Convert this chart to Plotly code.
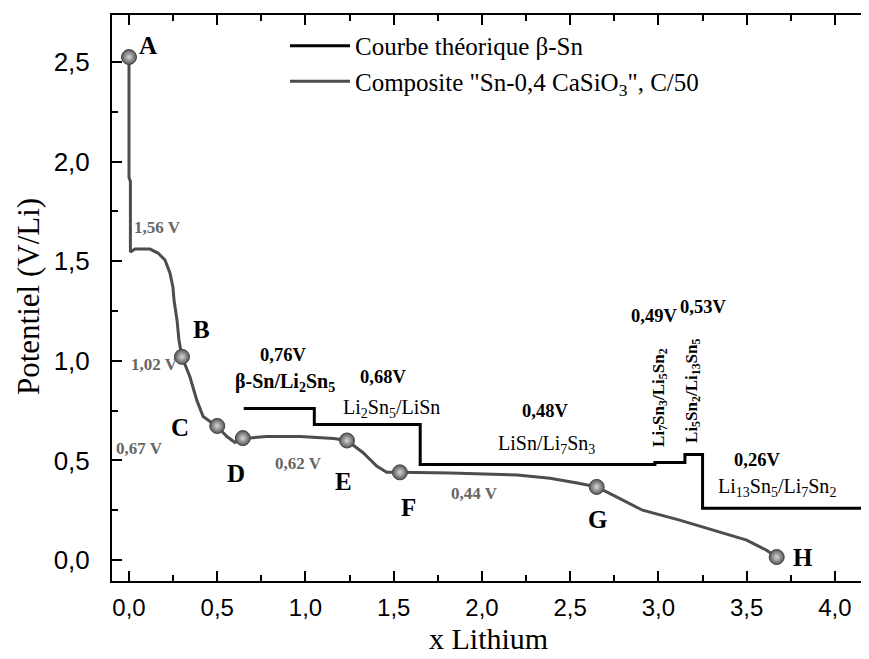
import plotly.graph_objects as go

# Theoretical step curve (beta-Sn)
theo_x = [0.65, 1.05, 1.05, 1.65, 1.65, 2.98, 2.98, 3.15, 3.15, 3.25, 3.25, 4.15]
theo_y = [0.76, 0.76, 0.68, 0.68, 0.48, 0.48, 0.49, 0.49, 0.53, 0.53, 0.26, 0.26]

# Composite "Sn-0,4 CaSiO3" curve, C/50
comp_x = [0.0, 0.0, 0.008, 0.008, 0.034, 0.119, 0.164, 0.204, 0.232, 0.249, 0.255, 0.272, 0.283,
          0.30, 0.345, 0.385, 0.42, 0.50, 0.555, 0.60, 0.645, 0.78, 0.97, 1.16, 1.235, 1.325,
          1.405, 1.46, 1.535, 1.82, 2.2, 2.385, 2.54, 2.65, 2.765, 2.91, 3.12, 3.31, 3.50, 3.61, 3.67]
comp_y = [2.525, 1.92, 1.90, 1.546, 1.561, 1.561, 1.541, 1.506, 1.441, 1.37, 1.305, 1.205, 1.104,
          1.02, 0.92, 0.80, 0.72, 0.67, 0.62, 0.59, 0.61, 0.62, 0.62, 0.61, 0.60, 0.54,
          0.47, 0.44, 0.44, 0.437, 0.427, 0.41, 0.387, 0.367, 0.316, 0.25, 0.20, 0.15, 0.10, 0.05, 0.015]

# Labelled points A..H
point_names = ["A", "B", "C", "D", "E", "F", "G", "H"]
point_x = [0.0, 0.30, 0.50, 0.645, 1.235, 1.535, 2.65, 3.67]
point_y = [2.525, 1.02, 0.673, 0.612, 0.60, 0.44, 0.367, 0.015]

# Letter label positions
letter_pos = [(0.108, 2.585), (0.408, 1.155), (0.289, 0.663), (0.606, 0.432),
              (1.218, 0.392), (1.581, 0.266), (2.652, 0.201), (3.819, 0.015)]

# Gray voltage labels of the composite curve
volt_texts = ["1,56 V", "1,02 V", "0,67 V", "0,62 V", "0,44 V"]
volt_pos = [(0.159, 1.667), (0.142, 0.979), (0.062, 0.562), (0.958, 0.487), (1.955, 0.336)]

# Theoretical plateau labels
plat_texts = ["0,76V", "0,68V", "0,48V", "0,49V", "0,53V", "0,26V"]
plat_pos = [(0.873, 1.029), (1.439, 0.919), (2.357, 0.748), (2.975, 1.225), (3.252, 1.27), (3.558, 0.502)]

phase_texts = ["<b>β-Sn/Li<sub>2</sub>Sn<sub>5</sub></b>", "Li<sub>2</sub>Sn<sub>5</sub>/LiSn",
               "LiSn/Li<sub>7</sub>Sn<sub>3</sub>", "Li<sub>13</sub>Sn<sub>5</sub>/Li<sub>7</sub>Sn<sub>2</sub>"]
phase_pos = [(0.884, 0.889), (1.49, 0.763), (2.363, 0.582), (3.671, 0.366)]

rot_texts = ["<b>Li<sub>7</sub>Sn<sub>3</sub>/Li<sub>5</sub>Sn<sub>2</sub></b>",
             "<b>Li<sub>5</sub>Sn<sub>2</sub>/Li<sub>13</sub>Sn<sub>5</sub></b>"]
rot_pos = [(3.008, 0.818), (3.195, 0.853)]

x_title = "x Lithium"
y_title = "Potentiel (V/Li)"

serif = "Liberation Serif, Times New Roman, serif"
sans = "Liberation Sans, Arial, sans-serif"

fig = go.Figure()
fig.add_trace(go.Scatter(x=theo_x, y=theo_y, mode="lines",
                         line=dict(color="black", width=3),
                         name="Courbe théorique β-Sn"))
fig.add_trace(go.Scatter(x=comp_x, y=comp_y, mode="lines",
                         line=dict(color="#4d4d4d", width=3),
                         name="Composite \"Sn-0,4 CaSiO<sub>3</sub>\", C/50"))
fig.add_trace(go.Scatter(x=point_x, y=point_y, mode="markers", showlegend=False,
                         marker=dict(size=15, color="#555555",
                                     gradient=dict(type="radial", color="#d8d8d8"),
                                     line=dict(color="#444444", width=1))))

ann = []
for name, (ax, ay) in zip(point_names, letter_pos):
    ann.append(dict(x=ax, y=ay, text="<b>" + name + "</b>", showarrow=False,
                    font=dict(family=serif, size=25, color="black")))
for t, (ax, ay) in zip(volt_texts, volt_pos):
    ann.append(dict(x=ax, y=ay, text="<b>" + t + "</b>", showarrow=False,
                    font=dict(family=serif, size=17, color="#666666")))
for t, (ax, ay) in zip(plat_texts, plat_pos):
    ann.append(dict(x=ax, y=ay, text="<b>" + t + "</b>", showarrow=False,
                    font=dict(family=serif, size=18.5, color="black")))
for t, (ax, ay) in zip(phase_texts, phase_pos):
    ann.append(dict(x=ax, y=ay, text=t, showarrow=False,
                    font=dict(family=serif, size=20, color="black")))
for t, (ax, ay) in zip(rot_texts, rot_pos):
    ann.append(dict(x=ax, y=ay, text=t, showarrow=False, textangle=-90,
                    font=dict(family=serif, size=17, color="black")))
# axis titles
ann.append(dict(xref="paper", yref="paper", x=0.4967, y=-0.101, text=x_title, showarrow=False,
                xanchor="center", yanchor="middle", borderpad=0,
                font=dict(family=serif, size=30, color="black")))
ann.append(dict(xref="paper", yref="paper", x=-0.111, y=0.5035, text=y_title, showarrow=False,
                xanchor="center", yanchor="middle", textangle=-90,
                font=dict(family=serif, size=31, color="black")))

# The page body has an 8 px margin, so the figure is offset by 8 px in the window.
fig.update_layout(
    width=861, height=651,
    margin=dict(l=104, r=0, t=7, b=78, autoexpand=False),
    paper_bgcolor="white", plot_bgcolor="white",
    separators=", ",
    showlegend=True,
    legend=dict(x=0.2285, y=0.986, xanchor="left", yanchor="top",
                font=dict(family=serif, size=25, color="black"),
                bgcolor="rgba(0,0,0,0)", tracegroupgap=0, itemwidth=60),
    annotations=ann,
)
fig.update_xaxes(range=[-0.0963, 4.193], dtick=0.5, tick0=0, tickformat=".1f", automargin=False,
                 showgrid=False, zeroline=False, showline=True, linecolor="black", linewidth=2,
                 mirror="ticks", ticks="inside", ticklen=10, tickwidth=1.5, tickcolor="black",
                 minor=dict(dtick=0.25, ticks="inside", ticklen=6, tickwidth=1.5, tickcolor="black"),
                 tickfont=dict(family=sans, size=24, color="black"), ticklabelstandoff=4)
fig.update_yaxes(range=[-0.1054, 2.736], dtick=0.5, tick0=0, tickformat=".1f", automargin=False,
                 showgrid=False, zeroline=False, showline=True, linecolor="black", linewidth=2,
                 mirror=False, ticks="inside", ticklen=10, tickwidth=1.5, tickcolor="black",
                 minor=dict(dtick=0.25, ticks="inside", ticklen=6, tickwidth=1.5, tickcolor="black"),
                 tickfont=dict(family=sans, size=26, color="black"), ticklabelstandoff=15)

fig.write_html("out.html")
